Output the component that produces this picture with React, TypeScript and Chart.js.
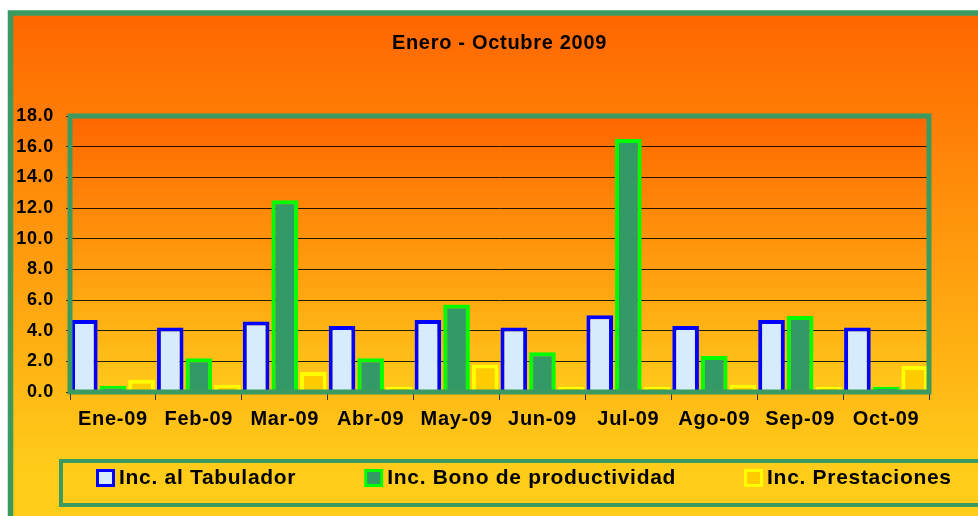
import React, { useEffect, useRef } from "react";
import { Chart, registerables } from "chart.js";

Chart.register(...registerables);

const categories = ["Ene-09", "Feb-09", "Mar-09", "Abr-09", "May-09", "Jun-09", "Jul-09", "Ago-09", "Sep-09", "Oct-09"];
const seriesLabels = ["Inc. al Tabulador", "Inc. Bono de productividad", "Inc. Prestaciones"];
const tabulador = [4.7, 4.2, 4.6, 4.3, 4.7, 4.2, 5.0, 4.3, 4.7, 4.2];
const bono = [0.4, 2.2, 12.5, 2.2, 5.7, 2.6, 16.5, 2.35, 4.95, 0.35];
const prestaciones = [0.8, 0.45, 1.3, 0.35, 1.8, 0.35, 0.35, 0.45, 0.35, 1.7];
const titleText = "Enero - Octubre 2009";
const yMin = 0;
const yMax = 18;
const yStep = 2;

const FONT = "'Liberation Sans', Arial, sans-serif";
const FRAME_GREEN = "#3A9A60";
const SPACING = "0.7px";

const spacingPlugin = {
  id: "spacing",
  beforeUpdate(chart: any) {
    chart.ctx.letterSpacing = SPACING;
  },
  beforeDraw(chart: any) {
    chart.ctx.letterSpacing = SPACING;
  },
};

const backgroundPlugin = {
  id: "bgPlugin",
  beforeDraw(chart: any) {
    const { ctx, chartArea } = chart;
    const { left, top, right, bottom } = chartArea;
    ctx.save();
    ctx.fillStyle = "#ffffff";
    ctx.fillRect(0, 0, chart.width, chart.height);
    const g = ctx.createLinearGradient(0, 16, 0, 470);
    g.addColorStop(0, "#FF6600");
    g.addColorStop(1, "#FFCC1A");
    ctx.fillStyle = g;
    ctx.fillRect(10.5, 13, 1000, 600);
    ctx.lineWidth = 5.5;
    ctx.strokeStyle = FRAME_GREEN;
    ctx.strokeRect(10.5, 13, 1000, 600);
    ctx.lineWidth = 4;
    ctx.strokeRect(61, 461, 1000, 44);
    const pg = ctx.createLinearGradient(0, top, 0, bottom);
    pg.addColorStop(0, "#FF6600");
    pg.addColorStop(1, "#FFCA1A");
    ctx.fillStyle = pg;
    ctx.fillRect(left, top, right - left, bottom - top);
    ctx.restore();
  },
  afterDatasetsDraw(chart: any) {
    const { ctx, chartArea } = chart;
    const { left, top, right, bottom } = chartArea;
    ctx.save();
    ctx.lineWidth = 5;
    ctx.strokeStyle = FRAME_GREEN;
    ctx.strokeRect(left, top, right - left, bottom - top);
    ctx.restore();
  },
  afterDraw(chart: any) {
    const { ctx } = chart;
    ctx.save();
    ctx.letterSpacing = SPACING;
    ctx.font = `bold 21px ${FONT}`;
    ctx.textBaseline = "middle";
    ctx.textAlign = "left";
    let x = 96;
    const yc = 478;
    chart.data.datasets.forEach((ds: any) => {
      ctx.fillStyle = ds.backgroundColor;
      ctx.fillRect(x + 1.5, yc - 7.5, 16, 15);
      ctx.lineWidth = 3;
      ctx.strokeStyle = ds.borderColor;
      ctx.strokeRect(x + 1.5, yc - 7.5, 16, 15);
      ctx.fillStyle = "#000";
      const tx = x + 23;
      ctx.fillText(ds.label, tx, yc);
      const w = ctx.measureText(ds.label).width;
      x = tx + w + 68;
    });
    ctx.restore();
  },
};

export default function App() {
  const ref = useRef<HTMLCanvasElement | null>(null);
  useEffect(() => {
    document.body.style.margin = "0";
    const canvas = ref.current;
    if (!canvas) return;
    const chart = new Chart(canvas, {
      type: "bar",
      data: {
        labels: categories,
        datasets: [
          { label: seriesLabels[0], data: tabulador, backgroundColor: "#D6EBFC", borderColor: "#0000FF", borderWidth: 4 },
          { label: seriesLabels[1], data: bono, backgroundColor: "#339966", borderColor: "#00FF00", borderWidth: 4 },
          { label: seriesLabels[2], data: prestaciones, backgroundColor: "#FFCC00", borderColor: "#FFFF00", borderWidth: 4 },
        ],
      },
      options: {
        responsive: false,
        devicePixelRatio: 1,
        animation: false,
        datasets: { bar: { categoryPercentage: 1.0, barPercentage: 0.93 } },
        layout: { padding: { top: 31, right: 49, bottom: 84, left: 0 } },
        plugins: {
          legend: { display: false },
          tooltip: { enabled: false },
          title: {
            display: true,
            text: titleText,
            fullSize: false,
            color: "#000",
            font: { family: FONT, size: 20, weight: "bold" },
            padding: { top: 0, bottom: 61 },
          },
        },
        scales: {
          x: {
            afterFit(scale: any) { scale.height = 40; },
            grid: { display: true, drawOnChartArea: false, drawTicks: true, tickLength: 8, color: "#333", offset: true },
            border: { display: false },
            ticks: { color: "#000", font: { family: FONT, size: 20, weight: "bold" }, padding: 7, maxRotation: 0 },
          },
          y: {
            min: yMin,
            max: yMax,
            afterFit(scale: any) { scale.width = 70; },
            grid: { color: "rgba(0,0,0,0.85)", lineWidth: 1, drawTicks: true, tickLength: 4 },
            border: { display: false },
            ticks: {
              stepSize: yStep,
              color: "#000",
              font: { family: FONT, size: 18, weight: "bold" },
              padding: 12,
              callback: (v: any) => Number(v).toFixed(1),
            },
          },
        },
      },
      plugins: [spacingPlugin, backgroundPlugin],
    });
    return () => chart.destroy();
  }, []);
  return (
    <div style={{ width: 978, height: 516 }}>
      <canvas ref={ref} width={978} height={516} style={{ display: "block" }} />
    </div>
  );
}
